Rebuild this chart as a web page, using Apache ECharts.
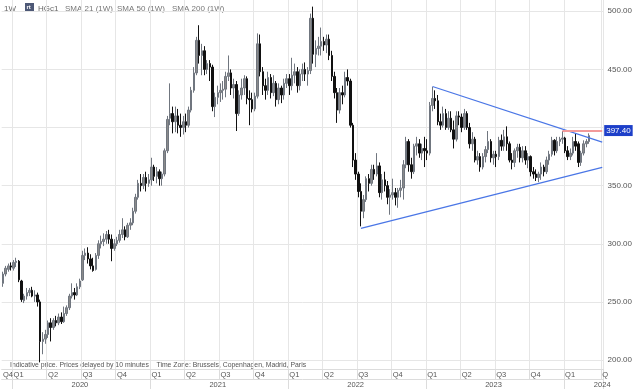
<!DOCTYPE html>
<html><head><meta charset="utf-8">
<script src="https://cdn.jsdelivr.net/npm/echarts@6/dist/echarts.min.js"></script>
<style>html,body{margin:0;padding:0;background:#fff}#c{width:635px;height:389px}</style>
</head><body><div id="c"></div>
<script>
// weekly categories (Mondays), first week and count
const startDate = [2019, 11, 9];
const weekCount = 227;

// tick labels
const quarterLabels = {0:'Q4',4:'Q1',17:'Q2',30:'Q3',43:'Q4',56:'Q1',69:'Q2',82:'Q3',95:'Q4',108:'Q1',121:'Q2',134:'Q3',147:'Q4',160:'Q1',173:'Q2',186:'Q3',199:'Q4',212:'Q1',226:'Q'};
const yearLabels = {29:'2020',81:'2021',133:'2022',185:'2023',226:'2024'};
const yearStarts = [4,56,108,160,212];
const yTicks = [200,250,300,350,400,450,500];

// weekly OHLC (HGc1)
const opens = [266,274,278,281,279,284,285,268,251,255,258,260,255,256,250,216,218,222,232,228,234,232,237,233,240,245,255,258,256,263,
269,290,292,287,281,278,290,300,302,304,308,304,296,300,303,308,312,306,316,318,328,340,352,350,357,352,355,366,358,362,
356,360,380,408,412,405,410,402,400,405,402,415,432,447,475,462,466,450,455,452,418,426,430,432,433,444,447,434,437,412,
428,434,442,425,424,416,427,472,448,436,432,443,430,438,424,434,428,438,442,436,445,448,436,446,450,446,449,494,463,468,
470,474,471,476,462,444,430,415,430,428,443,440,402,372,360,345,328,338,356,352,364,360,367,344,355,350,340,342,344,340,
346,348,368,388,368,362,384,386,378,382,380,378,419,425,423,405,402,412,400,408,398,390,410,409,400,412,400,386,390,372,
375,366,375,381,388,374,377,375,389,384,392,386,372,370,380,383,374,380,372,375,362,360,357,360,366,362,372,377,389,380,
388,390,391,380,375,378,388,386,370,378,386,388];
const highs = [276,281,283,284,286,288,286,269,257,262,262,263,260,258,252,224,226,234,236,236,238,240,241,246,247,257,266,262,266,270,
294,296,297,291,288,292,303,307,309,311,312,308,304,306,312,322,315,318,322,331,343,355,360,360,362,360,374,368,366,364,
362,382,410,438,418,418,416,412,410,412,418,435,452,478,488,472,470,458,458,454,430,436,438,440,448,462,450,442,440,432,
442,445,444,432,430,430,481,480,452,442,448,446,445,440,438,436,442,446,446,460,455,452,450,455,456,452,498,504,475,478,
486,478,480,480,466,448,434,434,436,448,450,442,404,378,362,352,342,358,360,368,368,378,370,360,362,354,347,356,348,348,
355,372,392,390,374,386,392,390,386,392,390,422,435,432,428,412,418,416,414,414,406,414,414,412,416,414,404,396,392,380,
378,378,384,397,390,380,380,392,394,398,401,388,378,382,386,386,384,384,378,376,366,364,362,370,368,375,380,392,390,392,
392,397,392,384,382,392,395,388,380,389,390,395];
const lows = [263,272,276,277,277,280,267,250,249,252,255,254,250,246,198,205,214,219,216,226,229,230,231,232,238,243,253,252,255,261,
268,286,283,278,276,277,287,296,298,300,300,285,294,298,301,305,303,305,312,316,326,338,345,347,345,349,350,354,352,350,
350,358,378,402,395,396,395,392,394,396,400,413,430,445,455,445,445,446,440,414,409,420,422,424,426,440,428,425,397,410,
424,428,420,402,413,414,425,444,428,424,428,425,427,418,420,421,424,434,428,432,438,430,432,440,440,436,446,455,452,462,
462,466,464,458,440,425,404,412,420,426,436,400,366,355,340,315,322,336,345,350,355,358,340,338,345,334,325,338,333,331,
340,338,365,362,356,360,376,374,372,366,372,376,414,416,402,398,400,398,398,396,382,388,402,396,398,398,382,380,370,368,
362,364,370,378,370,368,366,372,380,380,380,370,364,366,374,370,370,368,365,358,356,354,353,355,358,360,368,375,376,378,
384,386,378,372,372,376,380,366,367,376,383,386];
const closes = [274,279,281,280,284,285,269,252,255,258,260,255,256,250,216,218,222,232,228,234,232,237,233,240,245,255,258,256,263,268,
290,292,287,281,277,290,300,302,304,308,304,296,300,303,308,312,306,316,318,328,340,352,350,357,352,355,366,358,362,356,
360,380,407,412,405,410,402,400,405,402,415,432,447,475,462,466,450,455,452,418,426,430,432,433,444,447,434,437,412,428,
434,442,425,424,416,427,472,448,436,432,443,430,438,424,434,428,438,442,436,445,448,436,446,450,446,449,494,463,468,470,
474,471,476,462,444,430,415,430,428,443,440,402,372,360,345,328,338,356,352,364,360,367,344,355,350,340,342,344,340,346,
348,368,388,368,362,384,386,378,382,380,378,419,425,423,405,402,412,400,408,398,390,410,409,400,412,400,386,390,372,375,
366,375,381,388,374,377,375,389,384,392,386,372,370,380,383,374,380,372,375,362,360,357,360,366,362,372,377,389,380,388,
390,391,380,375,378,388,384,370,378,386,388,393];

// drawn lines: [categoryIndex, value]
const upperTrend = [[162, 435.3], [226, 387.5]];
const lowerTrend = [[135, 313.3], [226, 365.8]];
const priceLine = [[211, 397.4], [226, 397.4]];
const priceLabel = '397.40';

const categories = [];
const d0 = Date.UTC(startDate[0], startDate[1], startDate[2]);
for (let i = 0; i < weekCount; i++) categories.push(new Date(d0 + i * 7 * 86400000).toISOString().slice(0, 10));
const candles = opens.map((o, i) => [o, closes[i], lows[i], highs[i]]);
const qSet = new Set(Object.keys(quarterLabels).map(Number).filter(i => i > 0));
const ySet = new Set(yearStarts);
const pt = p => ({coord: [categories[p[0]], p[1]]});

const FONT = 'Liberation Sans, Arial, sans-serif';
const chart = echarts.init(document.getElementById('c'), null, {renderer: 'canvas'});
chart.setOption({
  animation: false,
  backgroundColor: '#fff',
  grid: {left: 0, right: 28, top: 0, bottom: 19, containLabel: false},
  xAxis: [{
    type: 'category', data: categories, boundaryGap: true, position: 'bottom',
    axisLine: {show: true, lineStyle: {color: '#dcdcdc', width: 1}},
    axisTick: {show: true, length: 10, interval: (i) => qSet.has(i), lineStyle: {color: '#dcdcdc'}},
    axisLabel: {show: true, interval: (i) => quarterLabels[i] !== undefined, formatter: (v, i) => quarterLabels[i] || '',
      align: 'left', margin: 2, fontSize: 7.5, color: '#555', fontFamily: FONT},
    splitLine: {show: true, interval: (i) => qSet.has(i), lineStyle: {color: '#e6e6e6', width: 1}}
  }, {
    type: 'category', data: categories, boundaryGap: true, position: 'bottom', offset: 10,
    axisLine: {show: true, lineStyle: {color: '#dcdcdc', width: 1}},
    axisTick: {show: true, length: 10, interval: (i) => ySet.has(i), lineStyle: {color: '#dcdcdc'}},
    axisLabel: {show: true, interval: (i) => yearLabels[i] !== undefined, formatter: (v, i) => yearLabels[i] || '',
      align: 'center', margin: 2, fontSize: 7.5, color: '#555', fontFamily: FONT},
    splitLine: {show: false}
  }],
  yAxis: {
    type: 'value', position: 'right', min: 192.3, max: 509.7, scale: true,
    axisLine: {show: false},
    axisTick: {show: false, customValues: yTicks},
    axisLabel: {show: true, customValues: yTicks, formatter: v => v === 400 ? '' : v.toFixed(2),
      align: 'left', margin: 4, fontSize: 8, color: '#555', fontFamily: FONT},
    splitLine: {show: true, lineStyle: {color: '#e6e6e6', width: 1}}
  },
  series: [{
    type: 'candlestick', xAxisIndex: 0, data: candles, barWidth: 2, clip: false,
    itemStyle: {color: '#8a8a8a', color0: '#111111', borderColor: '#70767f', borderColor0: '#111111', borderWidth: 1},
    markLine: {
      silent: true, symbol: 'none', animation: false,
      data: [
        [Object.assign(pt(upperTrend[0]), {lineStyle: {color: '#4a76e6', width: 1.2, type: 'solid'}, label: {show: false}}), pt(upperTrend[1])],
        [Object.assign(pt(lowerTrend[0]), {lineStyle: {color: '#4a76e6', width: 1.2, type: 'solid'}, label: {show: false}}), pt(lowerTrend[1])],
        [Object.assign(pt(priceLine[0]), {lineStyle: {color: '#f29a9a', width: 2, type: 'solid'},
          label: {show: true, position: 'end', distance: 2, formatter: priceLabel, color: '#fff', backgroundColor: '#1d3fc9',
            padding: [2, 2, 1, 2], fontSize: 8, fontFamily: FONT}}), pt(priceLine[1])]
      ]
    }
  }],
  graphic: [
    {type: 'text', left: 4, top: 5, style: {text: '1W', fontSize: 8, fill: '#666', fontFamily: FONT}},
    {type: 'rect', left: 25, top: 3, shape: {width: 9, height: 8}, style: {fill: '#4d5876'}},
    {type: 'text', left: 26.5, top: 4.5, style: {text: 'rt', fontSize: 6, fill: '#fff', fontFamily: FONT, fontWeight: 'bold'}},
    {type: 'text', left: 38, top: 5, style: {text: 'HGc1', fontSize: 8, fill: '#666', fontFamily: FONT}},
    {type: 'text', left: 65, top: 5, style: {text: 'SMA 21 (1W)', fontSize: 8, fill: '#777', fontFamily: FONT}},
    {type: 'text', left: 117, top: 5, style: {text: 'SMA 50 (1W)', fontSize: 8, fill: '#777', fontFamily: FONT}},
    {type: 'text', left: 172, top: 5, style: {text: 'SMA 200 (1W)', fontSize: 8, fill: '#777', fontFamily: FONT}},
    {type: 'text', left: 10, top: 362, style: {text: 'Indicative price. Prices delayed by 10 minutes    Time Zone: Brussels, Copenhagen, Madrid, Paris', fontSize: 6.85, fill: '#555', fontFamily: FONT}}
  ]
});
</script></body></html>
